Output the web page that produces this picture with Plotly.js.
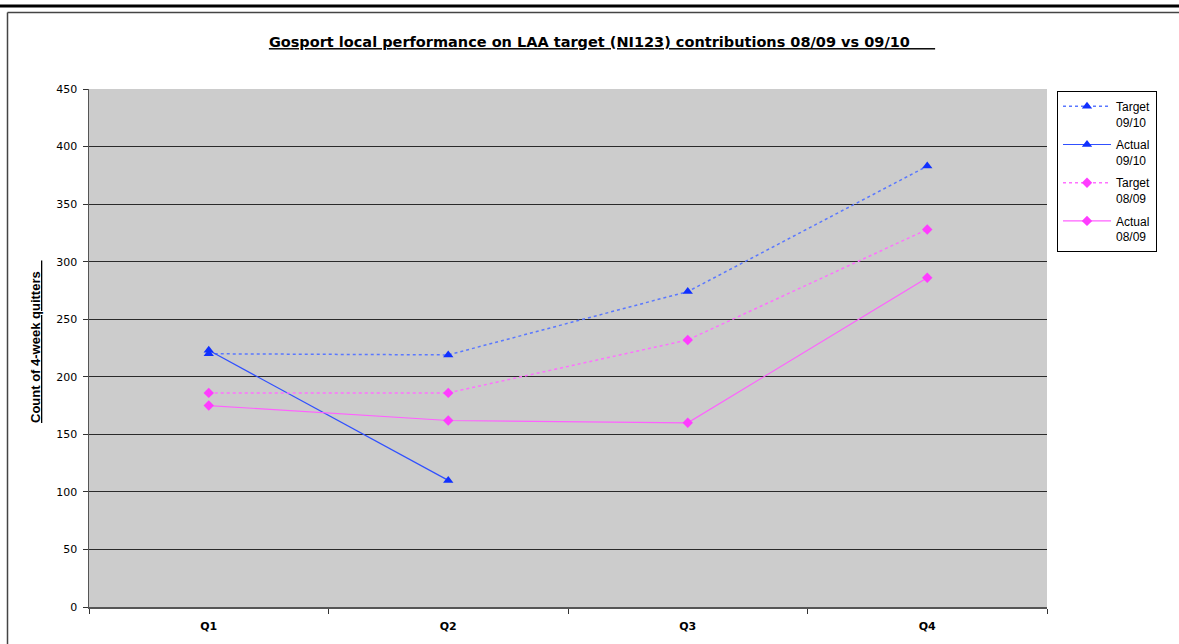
<!DOCTYPE html>
<html>
<head>
<meta charset="utf-8">
<script src="https://cdn.plot.ly/plotly-3.0.1.min.js"></script>
<style>
  html, body { margin: 0; padding: 0; background: #fff; }
  #chart { width: 1179px; height: 644px; }
</style>
</head>
<body>
<div id="chart"></div>
<script>
const quarters = ["Q1", "Q2", "Q3", "Q4"];
const target0910 = [220, 219, 274, 383];
const actual0910 = [223, 110, null, null];
const target0809 = [186, 186, 232, 328];
const actual0809 = [175, 162, 160, 286];
const yTicks = [0, 50, 100, 150, 200, 250, 300, 350, 400, 450];

const FONT = "Liberation Sans, Arial, sans-serif";
const WIDE = "DejaVu Sans, Verdana, sans-serif";
const BLUE = "#1030ff";
const MAG = "#ff3cff";

const traces = [
  { x: quarters, y: target0910, name: "Target<br>09/10", mode: "lines+markers", legendgroup: "a",
    line: { color: "#5a78ff", width: 1.5, dash: "dot" },
    marker: { symbol: "triangle-up", size: 9, color: BLUE } },
  { x: quarters, y: actual0910, name: "Actual<br>09/10", mode: "lines+markers", legendgroup: "b",
    line: { color: "#3050ff", width: 1.2 },
    marker: { symbol: "triangle-up", size: 9, color: BLUE } },
  { x: quarters, y: target0809, name: "Target<br>08/09", mode: "lines+markers", legendgroup: "c",
    line: { color: "#ff70ff", width: 1.5, dash: "dot" },
    marker: { symbol: "diamond", size: 8, color: MAG } },
  { x: quarters, y: actual0809, name: "Actual<br>08/09", mode: "lines+markers", legendgroup: "d",
    line: { color: "#ff60ff", width: 1.2 },
    marker: { symbol: "diamond", size: 8, color: MAG } }
];

const W = 958, H = 518, L = 89, T = 89;
const px = v => (v - L) / W;
const py = v => (T + H - v) / H;

const layout = {
  width: 1179, height: 644,
  margin: { l: 89, r: 132, t: 89, b: 37 },
  paper_bgcolor: "#ffffff",
  plot_bgcolor: "#cccccc",
  font: { family: FONT, color: "#000" },
  showlegend: true,
  title: {
    text: "<b><u>Gosport local performance on LAA target (NI123) contributions 08/09 vs 09/10&nbsp;&nbsp;&nbsp;&nbsp;&nbsp;</u></b>",
    font: { family: WIDE, size: 14.5, color: "#000" },
    xref: "container", yref: "container",
    x: 602 / 1179, xanchor: "center",
    y: 1 - 42 / 644, yanchor: "middle"
  },
  xaxis: {
    type: "category",
    categoryorder: "array", categoryarray: quarters,
    range: [-0.5, 3.5],
    tickson: "boundaries",
    ticks: "outside", ticklen: 5, tickcolor: "#333", tickwidth: 1,
    showline: true, linecolor: "#555", linewidth: 1.5,
    showgrid: false, zeroline: false,
    tickfont: { family: WIDE, size: 11, color: "#000", weight: "bold" },
    ticklabelstandoff: 8,
    fixedrange: true
  },
  yaxis: {
    range: [0, 450],
    tickvals: yTicks,
    ticktext: yTicks.map(String),
    ticks: "outside", ticklen: 5, tickcolor: "#333", tickwidth: 1,
    showline: true, linecolor: "#555", linewidth: 1.5,
    showgrid: true, gridcolor: "#2a2a2a", gridwidth: 1,
    zeroline: false,
    tickfont: { family: WIDE, size: 11, color: "#000" },
    ticklabelstandoff: 3,
    fixedrange: true
  },
  legend: {
    x: px(1057), y: py(91), xanchor: "left", yanchor: "top",
    bgcolor: "#ffffff", bordercolor: "#000", borderwidth: 1,
    font: { family: FONT, size: 12, color: "#000" },
    tracegroupgap: 4,
    itemwidth: 48,
    valign: "top"
  },
  annotations: [{
    text: "<b><u>Count of 4-week quitters&nbsp;&nbsp;&nbsp;</u></b>",
    xref: "paper", yref: "paper",
    x: px(35), y: py(342),
    xanchor: "center", yanchor: "middle",
    textangle: -90, showarrow: false,
    font: { family: FONT, size: 13, color: "#000" }
  }],
  shapes: [
    { type: "line", xref: "paper", yref: "paper",
      x0: px(0), x1: px(1179), y0: py(6), y1: py(6),
      line: { color: "#000", width: 3 } },
    { type: "line", xref: "paper", yref: "paper",
      x0: px(7.5), x1: px(1179), y0: py(12.5), y1: py(12.5),
      line: { color: "#444", width: 1.5 } },
    { type: "line", xref: "paper", yref: "paper",
      x0: px(7.5), x1: px(7.5), y0: py(12.5), y1: py(650),
      line: { color: "#444", width: 1.5 } }
  ]
};

Plotly.newPlot("chart", traces, layout, { displayModeBar: false, staticPlot: true });
</script>
</body>
</html>
